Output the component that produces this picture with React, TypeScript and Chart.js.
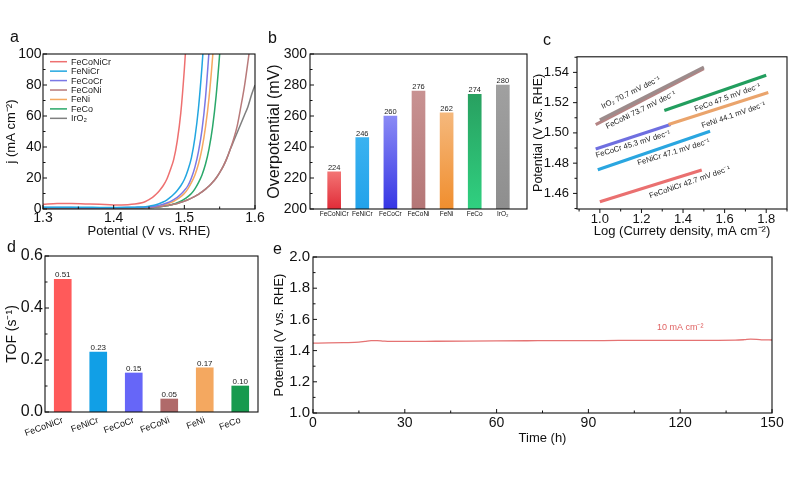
import React, { useEffect, useRef } from "react";
import { Chart, registerables } from "chart.js";

Chart.register(...registerables);

const FONT = "'Liberation Sans', Arial, Helvetica, sans-serif";
Chart.defaults.font.family = FONT;
Chart.defaults.color = "#000";

// ---------------- Panel a: LSV curves ----------------
const lsvPotential = [1.30, 1.32, 1.34, 1.36, 1.38, 1.40, 1.42, 1.43, 1.44, 1.445, 1.45, 1.455, 1.46, 1.465, 1.47, 1.475, 1.48, 1.485, 1.49, 1.495, 1.50, 1.505, 1.51, 1.515, 1.52, 1.525, 1.53, 1.535, 1.54, 1.545, 1.55, 1.555, 1.56, 1.565, 1.57, 1.575, 1.58, 1.585, 1.59, 1.595, 1.60];
const lsvFeCoNiCr = [3.0, 3.5, 3.6, 3.3, 3.0, 2.6, 2.8, 3.2, 4.0, 4.8, 6.0, 7.5, 9.5, 12, 15, 19, 25, 32, 44, 62, 90, 125];
const lsvFeNiCr = [1.2, 1.2, 1.1, 1.1, 1.0, 1.0, 1.1, 1.2, 1.3, 1.5, 1.8, 2.2, 2.8, 3.5, 4.5, 5.8, 7.5, 9.5, 12, 15, 19, 25, 33, 46, 65, 92, 125];
const lsvFeCoCr = [0.9, 0.9, 0.9, 0.8, 0.8, 0.8, 0.9, 1.0, 1.1, 1.2, 1.4, 1.6, 2.0, 2.5, 3.1, 3.9, 4.8, 6.0, 7.5, 9.5, 12, 15, 20, 27, 37, 51, 72, 102];
const lsvFeCoNi = [0.7, 0.7, 0.7, 0.7, 0.7, 0.7, 0.7, 0.8, 0.8, 0.9, 1.0, 1.1, 1.3, 1.5, 1.8, 2.2, 2.6, 3.1, 3.6, 4.3, 5.1, 6.0, 7.0, 8.2, 9.5, 11, 12.8, 14.8, 17.2, 20, 23.5, 27.5, 32.5, 38.5, 45.5, 54, 66, 79, 95, 112];
const lsvFeNi = [0.8, 0.8, 0.8, 0.8, 0.7, 0.7, 0.8, 0.8, 0.9, 1.0, 1.2, 1.4, 1.7, 2.1, 2.6, 3.2, 4.0, 5.0, 6.3, 8.0, 10, 13, 17, 22, 29, 39, 53, 72, 98, 130];
const lsvFeCo = [0.6, 0.6, 0.6, 0.6, 0.6, 0.6, 0.6, 0.7, 0.7, 0.8, 0.9, 1.0, 1.2, 1.4, 1.7, 2.1, 2.6, 3.2, 4.0, 5.0, 6.3, 8.0, 10, 13, 17, 22, 29, 39, 53, 73, 100, 132];
const lsvIrO2 = [0.7, 0.7, 0.7, 0.7, 0.7, 0.7, 0.7, 0.8, 0.8, 0.9, 1.0, 1.1, 1.3, 1.5, 1.8, 2.2, 2.6, 3.1, 3.6, 4.3, 5.1, 6.0, 7.0, 8.2, 9.5, 11, 12.8, 14.8, 17.2, 20, 23.5, 27.5, 32.5, 38.5, 44, 49.5, 55, 60.5, 66, 73.5, 80];
const lsvNames = ["FeCoNiCr", "FeNiCr", "FeCoCr", "FeCoNi", "FeNi", "FeCo", "IrO\u2082"];
const lsvSeries = [lsvFeCoNiCr, lsvFeNiCr, lsvFeCoCr, lsvFeCoNi, lsvFeNi, lsvFeCo, lsvIrO2];
const lsvColors = ["#ee7070", "#22a6e0", "#7a78e6", "#b87a7a", "#f5a860", "#2aa86a", "#7f7f7f"];
const aXTicks = [1.3, 1.4, 1.5, 1.6];
const aXMinor = [1.35, 1.45, 1.55];
const aYTicks = [0, 20, 40, 60, 80, 100];
const aYMinor = [10, 30, 50, 70, 90];

// ---------------- Panel b: overpotential ----------------
const bCategories = ["FeCoNiCr", "FeNiCr", "FeCoCr", "FeCoNi", "FeNi", "FeCo", "IrO\u2082"];
const bOverpotential = [224, 246, 260, 276, 262, 274, 280];
const bTopColors = ["#f37474", "#3ab2f0", "#8a8af5", "#c89292", "#f5b87c", "#28a060", "#a0a0a0"];
const bBottomColors = ["#e02c38", "#22a2ea", "#3636e4", "#b47676", "#f08e2e", "#30d080", "#8e8e8e"];
const bYTicks = [200, 220, 240, 260, 280, 300];
const bYMinor = [210, 230, 250, 270, 290];

// ---------------- Panel c: Tafel ----------------
const cNames = ["IrO2", "FeCoNi", "FeCo", "FeNi", "FeCoCr", "FeNiCr", "FeCoNiCr"];
const cLogJ = [[1.0, 1.5], [0.98, 1.5], [1.31, 1.8], [1.33, 1.81], [0.98, 1.34], [0.99, 1.53], [1.0, 1.49]];
const cPotential = [[1.5085, 1.5435], [1.5055, 1.5425], [1.5148, 1.5381], [1.5055, 1.5267], [1.4893, 1.5056], [1.4757, 1.5011], [1.4545, 1.4755]];
const cColors = ["#9c8c8c", "#b48484", "#229e5e", "#eaa46c", "#6f6fe0", "#2aa6e0", "#ea7070"];
const cNoteTexts = [
  "IrO\u2082 70.7 mV dec\u207B\u00B9",
  "FeCoNi 73.7 mV dec\u207B\u00B9",
  "FeCo 47.5 mV dec\u207B\u00B9",
  "FeNi 44.1 mV dec\u207B\u00B9",
  "FeCoCr 45.3 mV dec\u207B\u00B9",
  "FeNiCr 47.1 mV dec\u207B\u00B9",
  "FeCoNiCr 42.7 mV dec\u207B\u00B9",
];
const cNoteX = [1.149, 1.197, 1.614, 1.643, 1.16, 1.355, 1.432];
const cNoteY = [1.5265, 1.515, 1.5233, 1.5117, 1.4925, 1.4872, 1.4673];
const cNoteAngle = [26, 26, 20, 19, 17, 17, 19];
const cXTicks = [1.0, 1.2, 1.4, 1.6, 1.8];
const cXMinor = [0.9, 1.1, 1.3, 1.5, 1.7, 1.9];
const cYTicks = [1.46, 1.48, 1.50, 1.52, 1.54];
const cYMinor = [1.45, 1.47, 1.49, 1.51, 1.53, 1.55];

// ---------------- Panel d: TOF ----------------
const dCategories = ["FeCoNiCr", "FeNiCr", "FeCoCr", "FeCoNi", "FeNi", "FeCo"];
const dTOF = [0.51, 0.23, 0.15, 0.05, 0.17, 0.10];
const dColors = ["#ff5a5a", "#119fe6", "#6666f8", "#b06a6a", "#f4a860", "#179a4e"];
const dYTicks = [0, 0.2, 0.4, 0.6];
const dYMinor = [0.1, 0.3, 0.5];

// ---------------- Panel e: stability ----------------
const eTime = [0, 5, 10, 15, 17, 19, 21, 23, 25, 30, 40, 50, 60, 70, 80, 90, 100, 110, 120, 130, 138, 141, 143, 145, 147, 150];
const ePotential = [1.448, 1.449, 1.451, 1.454, 1.459, 1.464, 1.464, 1.461, 1.459, 1.459, 1.460, 1.461, 1.462, 1.463, 1.464, 1.464, 1.465, 1.465, 1.466, 1.466, 1.467, 1.470, 1.473, 1.472, 1.469, 1.468];
const eXTicks = [0, 30, 60, 90, 120, 150];
const eXMinor = [15, 45, 75, 105, 135];
const eYTicks = [1.0, 1.2, 1.4, 1.6, 1.8, 2.0];
const eYMinor = [1.1, 1.3, 1.5, 1.7, 1.9];
const eNote = "10 mA cm\u207B\u00B2";
const eNoteX = 120;
const eNoteY = 1.55;

// ---------------- plugins ----------------
const frameTicks = {
  id: "frameTicks",
  afterDraw(chart: any, _a: any, opts: any) {
    const { ctx, chartArea } = chart;
    const { left, right, top, bottom } = chartArea;
    ctx.save();
    ctx.strokeStyle = "#111";
    ctx.lineWidth = 1.1;
    ctx.strokeRect(left, top, right - left, bottom - top);
    ctx.lineWidth = 1;
    for (const axis of ["x", "y"]) {
      const spec = opts[axis];
      if (!spec) continue;
      const scale = chart.scales[axis];
      const sign = spec.dir === "in" ? 1 : -1;
      ctx.beginPath();
      const draw = (v: number, len: number) => {
        if (axis === "x") {
          const px = scale.getPixelForValue(v);
          ctx.moveTo(px, bottom);
          ctx.lineTo(px, bottom - sign * len);
        } else {
          const py = scale.getPixelForValue(v);
          ctx.moveTo(left, py);
          ctx.lineTo(left + sign * len, py);
        }
      };
      (spec.major || []).forEach((v: number) => draw(v, spec.len));
      (spec.minor || []).forEach((v: number) => draw(v, spec.minorLen));
      ctx.stroke();
    }
    ctx.restore();
  },
};

const barValues = {
  id: "barValues",
  afterDatasetsDraw(chart: any, _a: any, opts: any) {
    const { ctx } = chart;
    const meta = chart.getDatasetMeta(0);
    const ds = chart.data.datasets[0];
    ctx.save();
    ctx.font = `${opts.size}px ${FONT}`;
    ctx.fillStyle = opts.color || "#222";
    ctx.textAlign = "center";
    ctx.textBaseline = "bottom";
    meta.data.forEach((el: any, i: number) => {
      const raw = ds.data[i];
      const v = typeof raw === "object" ? raw.y : raw;
      ctx.fillText(v.toFixed(opts.decimals), el.x, el.y - opts.offset);
    });
    ctx.restore();
  },
};

const textNotes = {
  id: "textNotes",
  afterDatasetsDraw(chart: any, _a: any, opts: any) {
    const { ctx } = chart;
    const xs = chart.scales.x;
    const ys = chart.scales.y;
    ctx.save();
    (opts.items || []).forEach((it: any) => {
      const px = xs.getPixelForValue(it.x);
      const py = ys.getPixelForValue(it.y);
      ctx.save();
      ctx.translate(px, py);
      ctx.rotate((-(it.angle || 0) * Math.PI) / 180);
      ctx.font = `${it.size}px ${FONT}`;
      ctx.fillStyle = it.color;
      ctx.textAlign = "center";
      ctx.textBaseline = "middle";
      ctx.fillText(it.text, 0, 0);
      ctx.restore();
    });
    ctx.restore();
  },
};

const lineLegend = {
  id: "lineLegend",
  afterDatasetsDraw(chart: any, _a: any, opts: any) {
    const { ctx, chartArea } = chart;
    ctx.save();
    ctx.font = `${opts.size}px ${FONT}`;
    ctx.textBaseline = "middle";
    ctx.textAlign = "left";
    chart.data.datasets.forEach((ds: any, i: number) => {
      const y = chartArea.top + opts.top + i * opts.row;
      const x = chartArea.left + opts.left;
      ctx.strokeStyle = ds.borderColor;
      ctx.lineWidth = 1.5;
      ctx.beginPath();
      ctx.moveTo(x, y);
      ctx.lineTo(x + opts.lineLen, y);
      ctx.stroke();
      ctx.fillStyle = "#222";
      ctx.fillText(ds.label, x + opts.lineLen + opts.gap, y + 0.5);
    });
    ctx.restore();
  },
};

// ---------------- scale helpers ----------------
function linAxis(o: any) {
  return {
    type: "linear",
    min: o.min,
    max: o.max,
    afterBuildTicks: (s: any) => {
      s.ticks = o.ticks.map((v: number) => ({ value: v }));
    },
    afterFit: (s: any) => {
      if (o.width !== undefined) s.width = o.width;
      if (o.height !== undefined) s.height = o.height;
    },
    grid: { display: false, drawTicks: false },
    border: { display: false },
    ticks: {
      autoSkip: false,
      maxRotation: 0,
      minRotation: 0,
      font: { size: o.size, family: FONT },
      color: "#111",
      padding: o.pad,
      callback: o.fmt,
    },
    title: o.title
      ? {
          display: true,
          text: o.title,
          color: "#111",
          font: { size: o.titleSize, family: FONT },
          padding: { top: o.titlePad, bottom: o.titlePad },
        }
      : { display: false },
  };
}

const baseOpts = (padding: any) => ({
  animation: false,
  responsive: false,
  devicePixelRatio: 1,
  events: [],
  layout: { padding },
});

function gradientFor(c: any) {
  const chart = c.chart;
  const area = chart.chartArea;
  const i = c.dataIndex;
  if (!area || i === undefined || !chart.scales.y) return bBottomColors[i || 0];
  const raw = c.raw;
  const v = typeof raw === "object" ? raw.y : raw;
  const y0 = chart.scales.y.getPixelForValue(v);
  const g = chart.ctx.createLinearGradient(0, y0, 0, area.bottom);
  g.addColorStop(0, bTopColors[i]);
  g.addColorStop(1, bBottomColors[i]);
  return g;
}

// ---------------- configs ----------------
const configA = (): any => ({
  type: "line",
  data: {
    datasets: lsvSeries.map((s, k) => ({
      label: lsvNames[k],
      data: s.map((v, i) => ({ x: lsvPotential[i], y: v })),
      borderColor: lsvColors[k],
      borderWidth: 1.5,
      pointRadius: 0,
      fill: false,
      cubicInterpolationMode: "monotone",
    })),
  },
  options: {
    ...baseOpts({ left: 0, top: 12, right: 14, bottom: 0 }),
    plugins: {
      legend: { display: false },
      tooltip: { enabled: false },
      frameTicks: {
        x: { dir: "in", major: aXTicks, minor: aXMinor, len: 4, minorLen: 2.5 },
        y: { dir: "in", major: aYTicks, minor: aYMinor, len: 4, minorLen: 2.5 },
      },
      lineLegend: { left: 7, top: 7.7, row: 9.44, lineLen: 17, gap: 4, size: 9 },
    },
    scales: {
      x: linAxis({ min: 1.3, max: 1.6, ticks: aXTicks, size: 14, pad: 0.5, fmt: (v: number) => v.toFixed(1), height: 32, title: "Potential (V vs. RHE)", titleSize: 13, titlePad: 2 }),
      y: linAxis({ min: 0, max: 100, ticks: aYTicks, size: 14, pad: 1.5, fmt: (v: number) => String(v), width: 43, title: "j (mA cm\u207B\u00B2)", titleSize: 13, titlePad: 4 }),
    },
  },
  plugins: [frameTicks, lineLegend],
});

const configB = (): any => ({
  type: "bar",
  data: {
    datasets: [
      {
        data: bOverpotential.map((v, i) => ({ x: i, y: v })),
        backgroundColor: gradientFor,
        barThickness: 13,
        borderWidth: 0,
      },
    ],
  },
  options: {
    ...baseOpts({ left: 0, top: 12, right: 10, bottom: 0 }),
    plugins: {
      legend: { display: false },
      tooltip: { enabled: false },
      frameTicks: { y: { dir: "in", major: bYTicks, minor: bYMinor, len: 4, minorLen: 2.5 } },
      barValues: { size: 7.5, offset: 0.5, decimals: 0, color: "#222" },
    },
    scales: {
      x: {
        ...linAxis({ min: -0.86, max: 6.86, ticks: bCategories.map((_, i) => i), size: 6.5, pad: 1, fmt: (v: number) => bCategories[v], height: 12 }),
        offset: false,
      },
      y: linAxis({ min: 200, max: 300, ticks: bYTicks, size: 14, pad: 3, fmt: (v: number) => String(v), width: 48, title: "Overpotential (mV)", titleSize: 16, titlePad: 3.4 }),
    },
  },
  plugins: [frameTicks, barValues],
});

const configC = (): any => ({
  type: "line",
  data: {
    datasets: cNames.map((n, k) => ({
      label: n,
      data: cLogJ[k].map((x, i) => ({ x, y: cPotential[k][i] })),
      borderColor: cColors[k],
      borderWidth: 3.2,
      borderCapStyle: "butt",
      pointRadius: 0,
      fill: false,
    })),
  },
  options: {
    ...baseOpts({ left: 0, top: 12, right: 13, bottom: 0 }),
    plugins: {
      legend: { display: false },
      tooltip: { enabled: false },
      frameTicks: {
        x: { dir: "out", major: cXTicks, minor: cXMinor, len: 4, minorLen: 2.5 },
        y: { dir: "out", major: cYTicks, minor: cYMinor, len: 4, minorLen: 2.5 },
      },
      textNotes: {
        items: cNoteTexts.map((t, i) => ({ text: t, x: cNoteX[i], y: cNoteY[i], angle: cNoteAngle[i], size: 7.7, color: "#222" })),
      },
    },
    scales: {
      x: linAxis({ min: 0.89, max: 1.9, ticks: cXTicks, size: 13, pad: 3, fmt: (v: number) => v.toFixed(1), height: 32, title: "Log (Currety density, mA cm\u207B\u00B2)", titleSize: 13, titlePad: 1.5 }),
      y: linAxis({ min: 1.4497, max: 1.5503, ticks: cYTicks, size: 13, pad: 8, fmt: (v: number) => v.toFixed(2), width: 47, title: "Potential (V vs. RHE)", titleSize: 12.5, titlePad: 1.5 }),
    },
  },
  plugins: [frameTicks, textNotes],
});

const configD = (): any => ({
  type: "bar",
  data: {
    labels: dCategories,
    datasets: [{ data: dTOF, backgroundColor: dColors, barThickness: 17, borderWidth: 0 }],
  },
  options: {
    ...baseOpts({ left: 0, top: 12, right: 12, bottom: 0 }),
    plugins: {
      legend: { display: false },
      tooltip: { enabled: false },
      frameTicks: { y: { dir: "in", major: dYTicks, minor: dYMinor, len: 4, minorLen: 2.5 } },
      barValues: { size: 8, offset: 0.5, decimals: 2, color: "#222" },
    },
    scales: {
      x: {
        type: "category",
        afterFit: (s: any) => {
          s.height = 40;
        },
        grid: { display: false, drawTicks: false },
        border: { display: false },
        ticks: { autoSkip: false, minRotation: 20, maxRotation: 20, font: { size: 9, family: FONT }, color: "#111", padding: 3 },
      },
      y: linAxis({ min: 0, max: 0.6, ticks: dYTicks, size: 16, pad: 2, fmt: (v: number) => v.toFixed(1), width: 45, title: "TOF (s\u207B\u00B9)", titleSize: 14, titlePad: 3.6 }),
    },
  },
  plugins: [frameTicks, barValues],
});

const configE = (): any => ({
  type: "line",
  data: {
    datasets: [
      {
        data: eTime.map((t, i) => ({ x: t, y: ePotential[i] })),
        borderColor: "#e57373",
        borderWidth: 1.3,
        pointRadius: 0,
        fill: false,
        cubicInterpolationMode: "monotone",
      },
    ],
  },
  options: {
    ...baseOpts({ left: 0, top: 12, right: 14, bottom: 0 }),
    plugins: {
      legend: { display: false },
      tooltip: { enabled: false },
      frameTicks: {
        x: { dir: "in", major: eXTicks, minor: eXMinor, len: 4, minorLen: 2.5 },
        y: { dir: "in", major: eYTicks, minor: eYMinor, len: 4, minorLen: 2.5 },
      },
      textNotes: { items: [{ text: eNote, x: eNoteX, y: eNoteY, angle: 0, size: 9, color: "#e06464" }] },
    },
    scales: {
      x: linAxis({ min: 0, max: 150, ticks: eXTicks, size: 14, pad: 1.5, fmt: (v: number) => String(v), height: 35, title: "Time (h)", titleSize: 13, titlePad: 2.2 }),
      y: linAxis({ min: 1.0, max: 2.0, ticks: eYTicks, size: 15, pad: 3, fmt: (v: number) => v.toFixed(1), width: 45, title: "Potential (V vs. RHE)", titleSize: 13, titlePad: 3.2 }),
    },
  },
  plugins: [frameTicks, textNotes],
});

function Panel(props: { left: number; top: number; width: number; height: number; config: () => any }) {
  const ref = useRef<HTMLCanvasElement>(null);
  useEffect(() => {
    const chart = new Chart(ref.current as HTMLCanvasElement, props.config());
    return () => chart.destroy();
  }, []);
  const { left, top, width, height } = props;
  return (
    <canvas
      ref={ref}
      width={width}
      height={height}
      style={{ position: "absolute", left, top, width, height }}
    />
  );
}

const letterStyle = (left: number, top: number): React.CSSProperties => ({
  position: "absolute",
  left,
  top,
  fontFamily: FONT,
  fontSize: 16,
  lineHeight: "16px",
  color: "#111",
});

export default function App() {
  return (
    <div style={{ position: "absolute", left: 0, top: 0, width: 800, height: 480, background: "#fff", overflow: "hidden" }}>
      <Panel left={0} top={42} width={269} height={199} config={configA} />
      <Panel left={262} top={42} width={275} height={179} config={configB} />
      <Panel left={530} top={41} width={270} height={200} config={configC} />
      <Panel left={0} top={244} width={270} height={208} config={configD} />
      <Panel left={268} top={245} width={518} height={203} config={configE} />
      <div style={letterStyle(10, 29)}>a</div>
      <div style={letterStyle(268, 29.5)}>b</div>
      <div style={letterStyle(543, 31.5)}>c</div>
      <div style={letterStyle(7, 238.5)}>d</div>
      <div style={letterStyle(273, 240.5)}>e</div>
    </div>
  );
}
